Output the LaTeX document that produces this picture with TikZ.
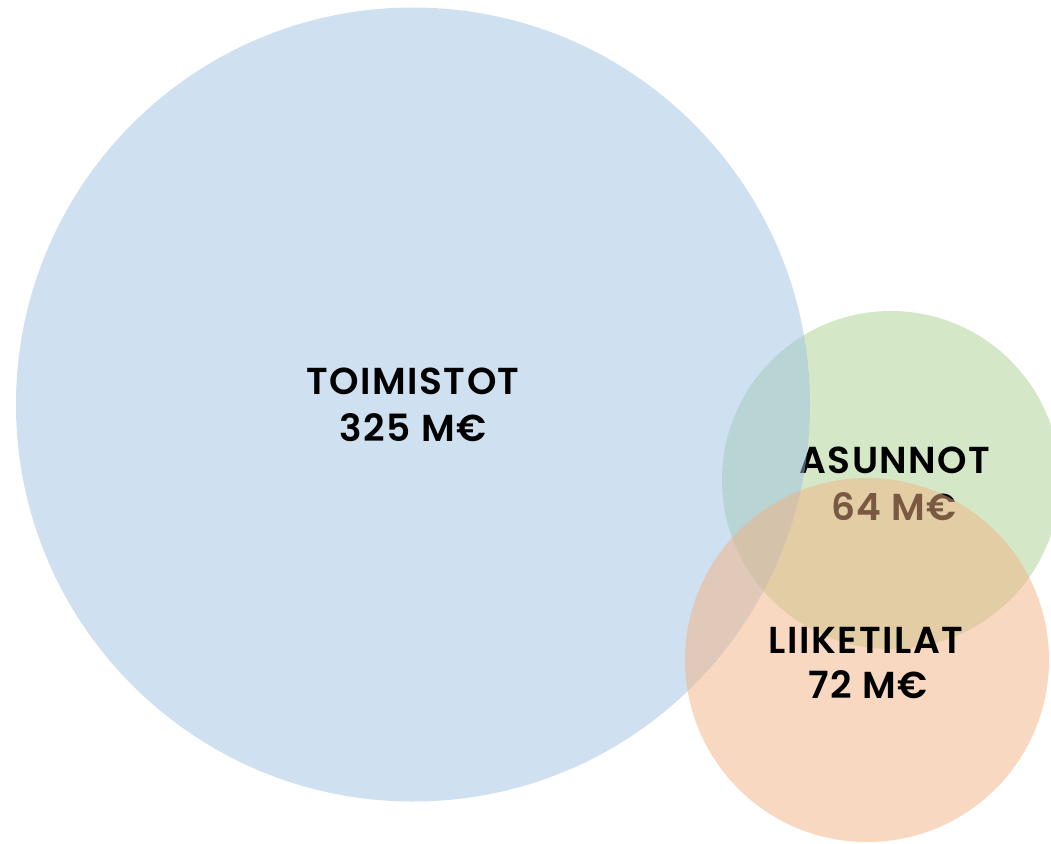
\documentclass[tikz,border=0pt]{standalone}
\usepackage{fontspec}
\setmainfont{Poppins}[UprightFont=* SemiBold, LetterSpace=4]
\definecolor{officeblue}{RGB}{159,193,227}
\definecolor{homegreen}{RGB}{169,209,145}
\definecolor{shoporange}{RGB}{242,178,130}
\begin{document}
\begin{tikzpicture}[x=1pt,y=-1pt,
  bubble/.style={circle, inner sep=0pt, draw=none, fill opacity=0.5},
  lbl/.style={anchor=base, inner sep=0pt, text=black, font=\fontsize{37.5}{44}\selectfont}]
\useasboundingbox (0,0) rectangle (1051,843);
% housing: green bubble with its labels underneath the others
\node[bubble, fill=homegreen, minimum size=338pt] (homes) at (891,480) {};
\node[lbl] (homes-name) at (895,473) {ASUNNOT};
\node[lbl] (homes-value) at (894,520) {64 M€};
% offices
\node[bubble, fill=officeblue, minimum size=794pt] (offices) at (413,404.5) {};
\node[lbl] (offices-name) at (413,394) {TOIMISTOT};
\node[lbl] (offices-value) at (413,441) {325 M€};
% retail
\node[bubble, fill=shoporange, minimum size=364pt] (retail) at (867,660) {};
\node[lbl] (retail-name) at (866,653) {LIIKETILAT};
\node[lbl] (retail-value) at (868,698) {72 M€};
\end{tikzpicture}
\end{document}
